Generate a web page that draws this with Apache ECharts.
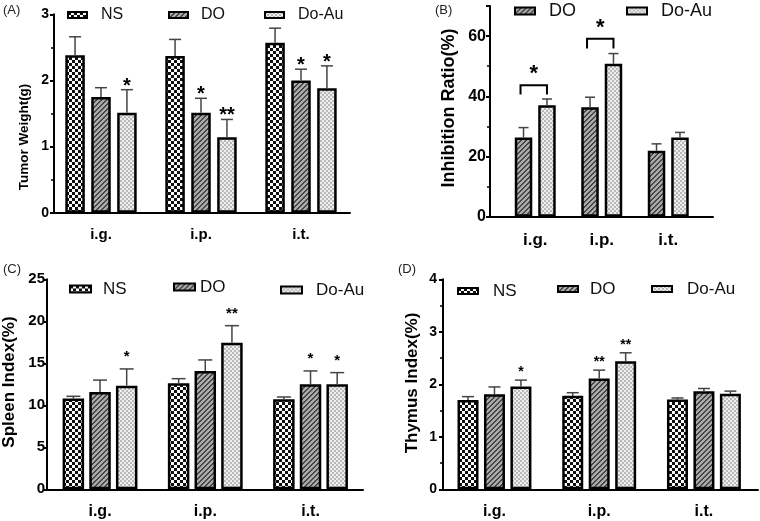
<!DOCTYPE html>
<html><head><meta charset="utf-8">
<script src="https://cdn.jsdelivr.net/npm/echarts@6/dist/echarts.min.js"></script>
<style>html,body{margin:0;padding:0;background:#fff}#c{width:760px;height:521px}</style>
</head><body><div id="c"></div>
<script>
// ---------- data ----------
const cats = ['i.g.', 'i.p.', 'i.t.'];

// (A) Tumor Weight (g)
const tumorTicks = [0, 1, 2, 3];
const tumorNS = [2.38, 2.37, 2.57];
const tumorNSErr = [0.28, 0.25, 0.22];
const tumorDO = [1.75, 1.51, 2.00];
const tumorDOErr = [0.14, 0.22, 0.17];
const tumorAu = [1.51, 1.14, 1.88];
const tumorAuErr = [0.35, 0.27, 0.34];
const tumorNSStars = ['', '', ''];
const tumorDOStars = ['', '*', '*'];
const tumorAuStars = ['*', '**', '*'];

// (B) Inhibition Ratio (%)
const inhibTicks = [0, 20, 40, 60];
const inhibAxisMax = 70;
const inhibDO = [26.3, 36.4, 21.9];
const inhibDOErr = [3.3, 3.3, 2.3];
const inhibAu = [37.0, 50.8, 26.3];
const inhibAuErr = [2.1, 3.4, 1.7];
const inhibBracketTop = [43.7, 59.1, null];
const inhibBracketBottom = [40.6, 55.9, null];
const inhibBracketStarLevel = [48.7, 64.2, null];
const inhibBracketStar = ['*', '*', ''];

// (C) Spleen Index (%)
const spleenTicks = [0, 5, 10, 15, 20, 25];
const spleenNS = [10.80, 12.62, 10.71];
const spleenNSErr = [0.27, 0.55, 0.28];
const spleenDO = [11.59, 14.09, 12.50];
const spleenDOErr = [1.41, 1.31, 1.59];
const spleenAu = [12.34, 17.46, 12.50];
const spleenAuErr = [1.99, 2.02, 1.39];
const spleenNSStars = ['', '', ''];
const spleenDOStars = ['', '', '*'];
const spleenAuStars = ['*', '**', '*'];

// (D) Thymus Index (%)
const thymusTicks = [0, 1, 2, 3, 4];
const thymusNS = [1.70, 1.78, 1.71];
const thymusNSErr = [0.065, 0.06, 0.03];
const thymusDO = [1.81, 2.11, 1.87];
const thymusDOErr = [0.14, 0.16, 0.05];
const thymusAu = [1.96, 2.44, 1.82];
const thymusAuErr = [0.12, 0.16, 0.05];
const thymusNSStars = ['', '', ''];
const thymusDOStars = ['', '**', ''];
const thymusAuStars = ['*', '**', ''];

// ---------- patterns ----------
function pat(size, fn) {
  const c = document.createElement('canvas');
  c.width = size; c.height = size;
  const ctx = c.getContext('2d');
  const img = ctx.createImageData(size, size);
  for (let y = 0; y < size; y++) for (let x = 0; x < size; x++) {
    const v = fn(x, y), i = (y * size + x) * 4;
    img.data[i] = v; img.data[i + 1] = v; img.data[i + 2] = v; img.data[i + 3] = 255;
  }
  ctx.putImageData(img, 0, 0);
  return { image: c, repeat: 'repeat' };
}
const patterns = {
  'NS': pat(6, (x, y) => ((Math.floor(x / 3) + Math.floor(y / 3)) % 2) ? 250 : 15),
  'DO': pat(5, (x, y) => ((x + y) % 5 < 2) ? 70 : 170),
  'Do-Au': pat(4, (x, y) => ((Math.floor(x / 2) + Math.floor(y / 2)) % 2) ? 238 : 185)
};

const FONT = '"Liberation Sans", Arial, Helvetica, sans-serif';
const option = { animation: false, backgroundColor: '#fff', grid: [], xAxis: [], yAxis: [], series: [], legend: [], graphic: [] };

function addPanel(p) {
  const gF = option.grid.length;
  option.grid.push({ left: p.axisLeft, top: p.top, width: p.axisWidth, height: p.height });
  option.xAxis.push({ gridIndex: gF, type: 'value', min: 0, max: 1,
    axisLine: { show: true, lineStyle: { color: '#000', width: 2 } },
    axisTick: { show: false }, axisLabel: { show: false }, splitLine: { show: false } });
  const step = p.ticks[1] - p.ticks[0];
  const maxT = p.ticks[p.ticks.length - 1];
  option.yAxis.push({ gridIndex: gF, type: 'value', min: p.ticks[0], max: p.max, interval: step,
    axisLine: { show: true, lineStyle: { color: '#000', width: 2 } },
    axisTick: { show: true, length: p.tickLen, lineStyle: { color: '#000', width: 2 } },
    minorTick: { show: !!p.minor, splitNumber: 2, length: 3, lineStyle: { color: '#000', width: 1.5 } },
    splitLine: { show: false }, minorSplitLine: { show: false },
    axisLabel: { color: '#000', fontWeight: 'bold', fontSize: p.tickFont, fontFamily: FONT, margin: p.labelMargin,
      showMaxLabel: p.max === maxT,
      formatter: v => (p.ticks.indexOf(v) >= 0 ? String(v) : '') } });
  const gB = option.grid.length;
  option.grid.push({ left: p.barLeft, top: p.top, width: p.barGridWidth, height: p.height });
  const bx = option.xAxis.length;
  option.xAxis.push({ gridIndex: gB, type: 'category', data: cats,
    axisLine: { show: false }, axisTick: { show: false },
    axisLabel: { color: '#000', fontWeight: 'bold', fontSize: p.catFont, fontFamily: FONT, margin: p.catMargin } });
  const by = option.yAxis.length;
  option.yAxis.push({ gridIndex: gB, type: 'value', min: p.ticks[0], max: p.max, show: false });

  const n = p.groups.length;
  const off = k => (k - (n - 1) / 2) * p.bw * (1 + p.gap / 100);
  p.groups.forEach((g, k) => {
    option.series.push({ type: 'bar', name: g.name, xAxisIndex: bx, yAxisIndex: by, data: g.vals,
      barWidth: p.bw, barGap: p.gap + '%', z: 2, silent: true,
      itemStyle: { color: patterns[g.name], borderColor: '#000', borderWidth: p.border } });
    option.series.push({ type: 'custom', xAxisIndex: bx, yAxisIndex: by, z: 3, silent: true,
      data: g.vals.map((v, i) => [i, v, v + g.errs[i]]),
      renderItem: (params, api) => {
        const i = params.dataIndex;
        const p0 = api.coord([api.value(0), api.value(1)]);
        const p1 = api.coord([api.value(0), api.value(2)]);
        const x = p0[0] + off(k);
        const ch = [
          { type: 'line', shape: { x1: x, y1: p0[1], x2: x, y2: p1[1] }, style: { stroke: '#444', lineWidth: 1.5 } },
          { type: 'line', shape: { x1: x - p.cap / 2, y1: p1[1], x2: x + p.cap / 2, y2: p1[1] }, style: { stroke: '#444', lineWidth: 1.5 } }
        ];
        const s = g.stars ? g.stars[i] : '';
        if (s) ch.push({ type: 'text', x: x, y: p1[1] - p.starDy,
          style: { text: s, font: 'bold ' + p.starFont + 'px ' + FONT, fill: '#000', align: 'center', verticalAlign: 'middle', textAlign: 'center', textVerticalAlign: 'middle' } });
        return { type: 'group', children: ch };
      } });
  });
  if (p.brackets) {
    const b = p.brackets;
    option.series.push({ type: 'custom', xAxisIndex: bx, yAxisIndex: by, z: 3, silent: true,
      data: b.top.map((t, i) => [i, t, b.bottom[i], b.level[i]]).filter(d => d[1] != null),
      renderItem: (params, api) => {
        const c = api.value(0);
        const pt = api.coord([c, api.value(1)]);
        const pb = api.coord([c, api.value(2)]);
        const pl = api.coord([c, api.value(3)]);
        const x1 = pt[0] + off(0) - 3, x2 = pt[0] + off(1);
        return { type: 'group', children: [
          { type: 'polyline', shape: { points: [[x1, pb[1]], [x1, pt[1]], [x2, pt[1]], [x2, pb[1]]] }, style: { stroke: '#000', lineWidth: 2, fill: null } },
          { type: 'text', x: (x1 + x2) / 2, y: pl[1] + 4,
            style: { text: b.star[c], font: 'bold ' + p.starFont + 'px ' + FONT, fill: '#000', align: 'center', verticalAlign: 'middle', textAlign: 'center', textVerticalAlign: 'middle' } }
        ] };
      } });
  }
  p.legends.forEach(L => {
    const w = L.w, h = p.legH, W = w + Math.max(0, L.pad);
    option.legend.push({ data: [L.name], left: L.left, top: L.cy - 10, padding: 0,
      icon: 'path://M0,0H' + w + 'V' + h + 'H0Z M' + W + ',' + (h / 2) + 'L' + W + ',' + (h / 2),
      itemWidth: W, itemHeight: h, selectedMode: false,
      itemStyle: { borderColor: '#000', borderWidth: 2 },
      textStyle: { fontSize: p.legFont, fontFamily: FONT, color: '#111', lineHeight: 20 } });
  });
  option.graphic.push({ type: 'text', x: p.title.x, y: p.title.y, rotation: Math.PI / 2,
    style: { text: p.title.text, font: 'bold ' + p.title.size + 'px ' + FONT, fill: '#000', textAlign: 'center', textVerticalAlign: 'middle', align: 'center', verticalAlign: 'middle' } });
  option.graphic.push({ type: 'text', x: p.tag.x, y: p.tag.y,
    style: { text: p.tag.text, font: '13px ' + FONT, fill: '#222', textAlign: 'left', textVerticalAlign: 'middle', align: 'left', verticalAlign: 'middle' } });
}

addPanel({
  axisLeft: 54, axisWidth: 296, top: 14.3, height: 198.4, barLeft: 51, barGridWidth: 300,
  ticks: tumorTicks, max: 3, minor: true, tickLen: 4, tickFont: 14, labelMargin: 5, catFont: 15, catMargin: 15,
  bw: 19.5, gap: 33, border: 2.5, cap: 12, starFont: 20, starDy: 3.5, legH: 6, legFont: 16,
  groups: [
    { name: 'NS', vals: tumorNS, errs: tumorNSErr, stars: tumorNSStars },
    { name: 'DO', vals: tumorDO, errs: tumorDOErr, stars: tumorDOStars },
    { name: 'Do-Au', vals: tumorAu, errs: tumorAuErr, stars: tumorAuStars }
  ],
  legends: [
    { name: 'NS', left: 67, cy: 15, w: 19, pad: 9 },
    { name: 'DO', left: 168, cy: 15, w: 19, pad: 8 },
    { name: 'Do-Au', left: 264, cy: 15, w: 19, pad: 9 }
  ],
  title: { text: 'Tumor Weight(g)', x: 24, y: 137, size: 13.5 },
  tag: { text: '(A)', x: 3, y: 10 }
});

addPanel({
  axisLeft: 490, axisWidth: 223, top: 6, height: 210.7, barLeft: 502, barGridWidth: 199.5,
  ticks: inhibTicks, max: inhibAxisMax, minor: true, tickLen: 4, tickFont: 16, labelMargin: 4, catFont: 17, catMargin: 15,
  bw: 17.5, gap: 34, border: 2.5, cap: 10, starFont: 22, starDy: 3.5, legH: 7, legFont: 18,
  groups: [
    { name: 'DO', vals: inhibDO, errs: inhibDOErr },
    { name: 'Do-Au', vals: inhibAu, errs: inhibAuErr }
  ],
  brackets: { top: inhibBracketTop, bottom: inhibBracketBottom, level: inhibBracketStarLevel, star: inhibBracketStar },
  legends: [
    { name: 'DO', left: 514, cy: 11, w: 20, pad: 9 },
    { name: 'Do-Au', left: 626, cy: 11, w: 20, pad: 9 }
  ],
  title: { text: 'Inhibition Ratio(%)', x: 449, y: 108, size: 18 },
  tag: { text: '(B)', x: 435, y: 10 }
});

addPanel({
  axisLeft: 47, axisWidth: 316, top: 279.3, height: 210, barLeft: 47.4, barGridWidth: 315.75,
  ticks: spleenTicks, max: 25, minor: false, tickLen: 3, tickFont: 15, labelMargin: 2, catFont: 16, catMargin: 14,
  bw: 21.5, gap: 24, border: 2.5, cap: 14, starFont: 15, starDy: 12, legH: 7, legFont: 17,
  groups: [
    { name: 'NS', vals: spleenNS, errs: spleenNSErr, stars: spleenNSStars },
    { name: 'DO', vals: spleenDO, errs: spleenDOErr, stars: spleenDOStars },
    { name: 'Do-Au', vals: spleenAu, errs: spleenAuErr, stars: spleenAuStars }
  ],
  legends: [
    { name: 'NS', left: 69, cy: 289, w: 21, pad: 7 },
    { name: 'DO', left: 173, cy: 287, w: 21, pad: 0 },
    { name: 'Do-Au', left: 280, cy: 290, w: 21, pad: 9 }
  ],
  title: { text: 'Spleen Index(%)', x: 9, y: 382, size: 17 },
  tag: { text: '(C)', x: 3, y: 269 }
});

addPanel({
  axisLeft: 443, axisWidth: 315, top: 279.3, height: 210, barLeft: 442.1, barGridWidth: 314.2,
  ticks: thymusTicks, max: 4, minor: true, tickLen: 4, tickFont: 14, labelMargin: 6, catFont: 16, catMargin: 14,
  bw: 21, gap: 26, border: 2.5, cap: 12, starFont: 14, starDy: 8, legH: 6, legFont: 17,
  groups: [
    { name: 'NS', vals: thymusNS, errs: thymusNSErr, stars: thymusNSStars },
    { name: 'DO', vals: thymusDO, errs: thymusDOErr, stars: thymusDOStars },
    { name: 'Do-Au', vals: thymusAu, errs: thymusAuErr, stars: thymusAuStars }
  ],
  legends: [
    { name: 'NS', left: 457, cy: 291, w: 20, pad: 10 },
    { name: 'DO', left: 557, cy: 289, w: 20, pad: 7 },
    { name: 'Do-Au', left: 651, cy: 289, w: 20, pad: 10 }
  ],
  title: { text: 'Thymus Index(%)', x: 412, y: 383, size: 17 },
  tag: { text: '(D)', x: 398, y: 269 }
});

const chart = echarts.init(document.getElementById('c'), null, { renderer: 'canvas', width: 760, height: 521 });
chart.setOption(option);
</script>
</body></html>
